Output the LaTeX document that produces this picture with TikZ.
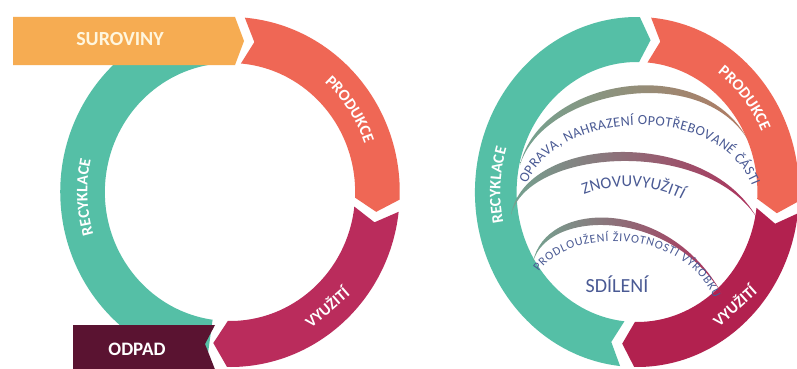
\documentclass[tikz,border=0pt]{standalone}
\usepackage{fontspec}
\setmainfont{Carlito}
\usetikzlibrary{decorations.text}
\definecolor{corange}{HTML}{F6AC52}
\definecolor{cred}{HTML}{EF6755}
\definecolor{cpurp}{HTML}{BA2C5C}
\definecolor{cpurpR}{HTML}{B2214F}
\definecolor{cteal}{HTML}{55BFA6}
\definecolor{codpad}{HTML}{5A1331}
\definecolor{csur}{HTML}{FFF6DE}
\definecolor{cink}{HTML}{4A5A94}
\definecolor{cgreen}{HTML}{74A290}
\definecolor{cbrown}{HTML}{A48A6C}
\definecolor{ctan}{HTML}{B27A62}
\definecolor{cmauve}{HTML}{8E7C82}
\definecolor{ccrim}{HTML}{AE2F5B}
\tikzset{
  bandtext/.style={decorate, decoration={text along path, text align=center,
      text={|\bfseries\fontsize{16}{16}\selectfont\color{white}|#1}}},
  bandnode/.style={font=\bfseries\fontsize{16}{16}\selectfont, text=white, inner sep=0pt},
  innertext/.style 2 args={decorate, decoration={text along path, text align={fit to path},
      text={|\fontsize{#1}{#1}\selectfont\color{cink}|#2}}},
  innercentre/.style 2 args={decorate, decoration={text along path, text align=center,
      text={|\fontsize{#1}{#1}\selectfont\color{cink}|#2}}},
  boxlabel/.style={font=\bfseries\fontsize{19}{19}\selectfont, inner sep=0pt}
}
\begin{document}
\begin{tikzpicture}[x=1pt,y=1pt]
\useasboundingbox (0,0) rectangle (797,-369);
\clip (0,0) rectangle (797,-369);
\fill[white] (0,0) rectangle (797,-369);

% ---------------- left cycle ----------------
\begin{scope}[shift={(230,-192)}, xscale=0.97]
  \fill[cteal] (97:175) arc[start angle=97,end angle=262,radius=175]
     -- (262:129) arc[start angle=262,end angle=97,radius=129] -- cycle;
  \fill[cred] (85:175) arc[start angle=85,end angle=-2.5,radius=175]
     -- (-7.5:152) -- (-2.5:129) arc[start angle=-2.5,end angle=85,radius=129]
     -- (80.5:152) -- cycle;
  \fill[cpurp] (-6.5:175) arc[start angle=-6.5,end angle=-91,radius=175]
     -- (-96.5:152) -- (-91:129) arc[start angle=-91,end angle=-6.5,radius=129]
     -- (-11.5:152) -- cycle;
\end{scope}
\fill[corange] (13,-17) -- (235,-17) -- (244,-41) -- (235,-65) -- (13,-65) -- cycle;
\node[boxlabel, text=csur, font=\bfseries\fontsize{20}{20}\selectfont] (sur) at (120,-39) {SUROVINY};
\fill[codpad] (73,-325) -- (215,-325) -- (205,-344) -- (216,-372) -- (73,-372) -- cycle;
\node[boxlabel, text=white] (odp) at (137,-349) {ODPAD};
\begin{scope}[shift={(230,-192)}]
  \path[bandtext=PRODUKCE] (64:142.6 and 147) arc[start angle=64,end angle=4,x radius=142.6,y radius=147];
  \path[bandtext=RECYKLACE] (212:142.6 and 147) arc[start angle=212,end angle=152,x radius=142.6,y radius=147];
\end{scope}
\node[bandnode, rotate=41] (vyuL) at (326.5,-306.5) {VYUŽITÍ};

% ---------------- right cycle ----------------
\begin{scope}[shift={(637,-192)}, xscale=0.926]
  \fill[cteal] (264:175) arc[start angle=264,end angle=89,radius=175]
     -- (84.5:152.5) -- (89:130) arc[start angle=89,end angle=264,radius=130]
     -- (259.5:152.5) -- cycle;
  \fill[cred] (85:175) arc[start angle=85,end angle=-3,radius=175]
     -- (-8:152.5) -- (-3:130) arc[start angle=-3,end angle=85,radius=130]
     -- (80.5:152.5) -- cycle;
  \fill[cpurpR] (-7:175) arc[start angle=-7,end angle=-91,radius=175]
     -- (-96:152.5) -- (-91:130) arc[start angle=-91,end angle=-7,radius=130]
     -- (-12:152.5) -- cycle;
\end{scope}
\begin{scope}[shift={(637,-192)}]
  \path[bandtext=PRODUKCE] (69.5:136.6 and 147.5) arc[start angle=69.5,end angle=9.5,x radius=136.6,y radius=147.5];
  \path[bandtext=RECYKLACE] (207.4:136.6 and 147.5) arc[start angle=207.4,end angle=147.4,x radius=136.6,y radius=147.5];
\end{scope}
\node[bandnode, rotate=42] (vyuR) at (734,-305) {VYUŽITÍ};

% crescents
\shade[left color=cgreen, middle color=cbrown, right color=ctan]
  (520,-165) .. controls (540,-80) and (700,-50) .. (748,-140)
  .. controls (700,-61) and (543,-90) .. (520,-165) -- cycle;
\shade[left color=cgreen, middle color=cmauve, right color=ccrim]
  (511,-215) .. controls (525,-135) and (705,-126) .. (757,-218)
  .. controls (705,-137) and (528,-148) .. (511,-215) -- cycle;
\shade[left color=cgreen, middle color=cmauve, right color=ccrim]
  (533,-262) .. controls (545,-200) and (668,-196) .. (722,-294)
  .. controls (668,-206) and (547,-210) .. (533,-262) -- cycle;

% inner texts
\path[innertext={14}{OPRAVA, NAHRAZENÍ OPOTŘEBOVANÉ ČÁSTI}]
  (527,-184) .. controls (556,-110) and (718,-100) .. (752,-186);
\path[innercentre={16.5}{ZNOVUVYUŽITÍ}]
  (570,-201) .. controls (605,-181) and (660,-181) .. (695,-208);
\path[innertext={12}{PRODLOUŽENÍ ŽIVOTNOSTI VÝROBKU}]
  (539,-272) .. controls (565,-230) and (680,-224) .. (714,-298);
\node[font=\fontsize{20}{20}\selectfont, text=cink, inner sep=0pt] (sdl) at (617,-284) {SDÍLENÍ};
\end{tikzpicture}
\end{document}
